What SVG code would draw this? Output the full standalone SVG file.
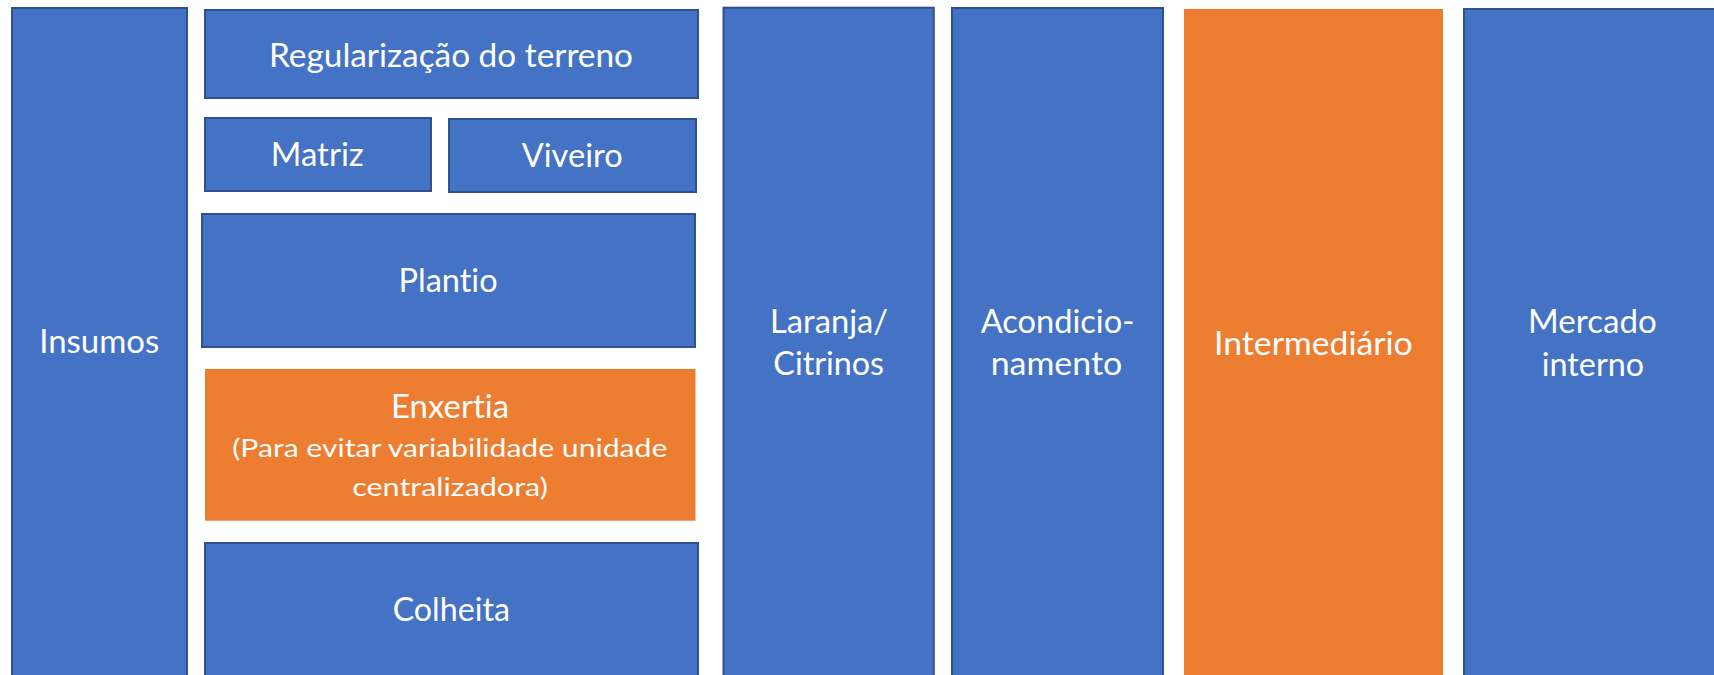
<svg xmlns="http://www.w3.org/2000/svg" width="1714" height="675" viewBox="0 0 1714 675">
<style>
.blue{fill:#4472C4;stroke:#2F528F;stroke-width:2}
.orange{fill:#ED7D31;stroke:none}
.t{font-family:Lato,"Open Sans","Liberation Sans",sans-serif;font-size:32px;fill:#FFFFFF;text-anchor:middle;font-variant-ligatures:none;font-feature-settings:"liga" 0,"clig" 0}
.s{font-size:25.5px}
</style>
<rect width="1714" height="675" fill="#FFFFFF"/>
<g id="insumos"><rect class="blue" x="12" y="8" width="175" height="700"/><text class="t" x="99.2" y="353.3" textLength="120" lengthAdjust="spacingAndGlyphs">Insumos</text></g>
<g id="regularizacao"><rect class="blue" x="205" y="10" width="493" height="88"/><text class="t" x="451" y="66.7" textLength="364" lengthAdjust="spacingAndGlyphs">Regularização do terreno</text></g>
<g id="matriz"><rect class="blue" x="205" y="118" width="226" height="73"/><text class="t" x="317.3" y="165.7" textLength="93" lengthAdjust="spacingAndGlyphs">Matriz</text></g>
<g id="viveiro"><rect class="blue" x="449" y="119" width="247" height="73"/><text class="t" x="572.2" y="166.7" textLength="101" lengthAdjust="spacingAndGlyphs">Viveiro</text></g>
<g id="plantio"><rect class="blue" x="202" y="214" width="493" height="133"/><text class="t" x="448.1" y="291.7" textLength="99" lengthAdjust="spacingAndGlyphs">Plantio</text></g>
<g id="enxertia"><rect class="orange" x="205" y="369" width="490.5" height="151.7"/><text class="t" x="450" y="417.7" textLength="118" lengthAdjust="spacingAndGlyphs">Enxertia</text><text class="t s" x="449.8" y="457" textLength="435" lengthAdjust="spacingAndGlyphs">(Para evitar variabilidade unidade</text><text class="t s" x="450" y="496" textLength="195.6" lengthAdjust="spacingAndGlyphs">centralizadora)</text></g>
<g id="colheita"><rect class="blue" x="205" y="543" width="493" height="200"/><text class="t" x="451.3" y="621" textLength="117.3" lengthAdjust="spacingAndGlyphs">Colheita</text></g>
<g id="laranja"><rect class="blue" x="723.5" y="7.7" width="210.3" height="700"/><text class="t" x="829" y="332.7" textLength="118" lengthAdjust="spacingAndGlyphs">Laranja/</text><text class="t" x="828.7" y="375" textLength="110.7" lengthAdjust="spacingAndGlyphs">Citrinos</text></g>
<g id="acondicionamento"><rect class="blue" x="952" y="8" width="211" height="700"/><text class="t" x="1057.5" y="332.7" textLength="153.6" lengthAdjust="spacingAndGlyphs">Acondicio-</text><text class="t" x="1056.5" y="375" textLength="131.6" lengthAdjust="spacingAndGlyphs">namento</text></g>
<g id="intermediario"><rect class="orange" x="1184" y="9" width="259" height="700"/><text class="t" x="1313.4" y="355" textLength="198.7" lengthAdjust="spacingAndGlyphs">Intermediário</text></g>
<g id="mercado"><rect class="blue" x="1464" y="9" width="260" height="700"/><text class="t" x="1592.4" y="333.3" textLength="128.7" lengthAdjust="spacingAndGlyphs">Mercado</text><text class="t" x="1592.9" y="376" textLength="102.3" lengthAdjust="spacingAndGlyphs">interno</text></g>
<g id="connectors"></g>
</svg>
